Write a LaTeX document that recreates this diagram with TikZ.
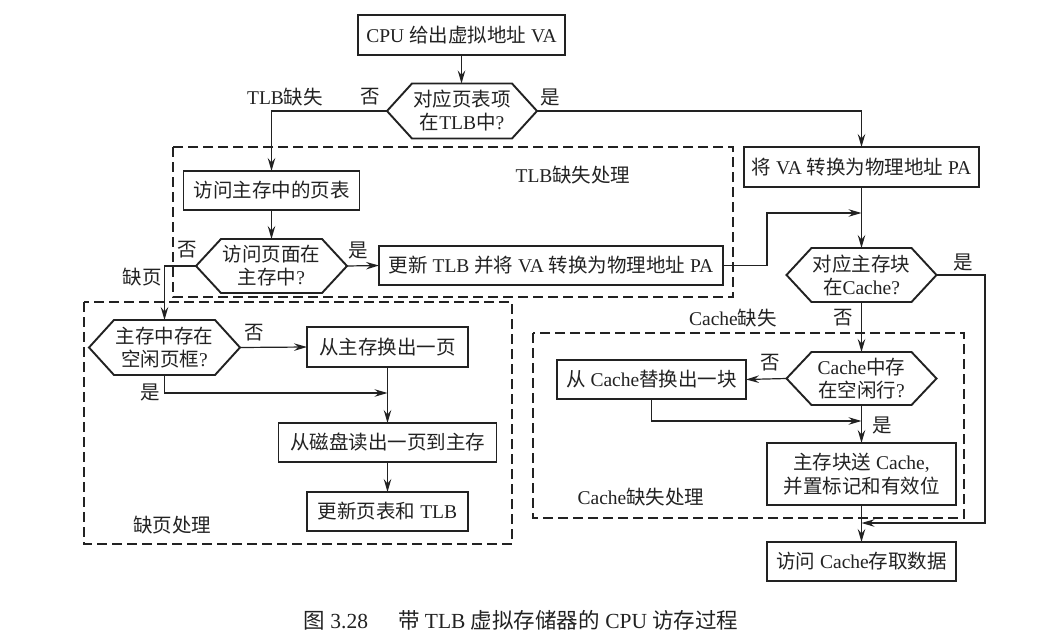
\documentclass[tikz,border=0pt]{standalone}
\usepackage{fontspec}
\setmainfont{Liberation Serif}
\newfontfamily\cjk{Noto Sans CJK SC}
\newcommand\zh[1]{{\cjk #1}}
\usetikzlibrary{arrows.meta}
\definecolor{ink}{HTML}{222222}
\begin{document}
\begin{tikzpicture}[x=1pt,y=-1pt,
  every node/.style={font=\fontsize{19.5}{23}\selectfont, text=ink, inner sep=0pt, outer sep=0pt},
  box/.style={draw=ink, line width=1.9pt, align=center},
  hex/.style={align=center},
  hexline/.style={draw=ink, line width=1.9pt, line join=miter},
  arr/.style={draw=ink, line width=1.2pt, -{Stealth[length=13pt,width=7.5pt,inset=4.5pt]}},
  ln/.style={draw=ink, line width=1.2pt},
  dbox/.style={draw=ink, line width=1.2pt, dash pattern=on 10pt off 5pt},
  lbl/.style={}
]
\useasboundingbox[fill=white] (0,0) rectangle (1047,642);

% dashed groups
\draw[dbox] (173,147) rectangle (733,297);
\draw[dbox] (84,302) rectangle (512,544);
\draw[dbox] (533,333) rectangle (964,518);

% rectangular steps
\node[box, minimum width=207pt, minimum height=40pt] (va) at (461.5,35) {CPU \zh{给出虚拟地址} VA};
\node[box, minimum width=176pt, minimum height=39pt] (pt) at (271.5,190.5) {\zh{访问主存中的页表}};
\node[box, minimum width=344pt, minimum height=39pt] (upd) at (551,265.5) {\zh{更新} TLB \zh{并将} VA \zh{转换为物理地址} PA};
\node[box, minimum width=235pt, minimum height=40pt] (pa) at (861.5,167) {\zh{将} VA \zh{转换为物理地址} PA};
\node[box, minimum width=161pt, minimum height=40pt] (swap) at (387.5,347) {\zh{从主存换出一页}};
\node[box, minimum width=218pt, minimum height=39pt] (disk) at (387.5,442.5) {\zh{从磁盘读出一页到主存}};
\node[box, minimum width=161pt, minimum height=39pt] (uptlb) at (387.5,511.5) {\zh{更新页表和} TLB};
\node[box, minimum width=189pt, minimum height=39pt] (repl) at (651.5,379.5) {\zh{从} Cache\zh{替换出一块}};
\node[box, minimum width=189pt, minimum height=62pt, font=\fontsize{19.5}{24}\selectfont] (load) at (861.5,474) {\zh{主存块送} Cache,\\\zh{并置标记和有效位}};
\node[box, minimum width=189pt, minimum height=39pt] (acc) at (861.5,561.5) {\zh{访问} Cache\zh{存取数据}};

% decisions
\node[hex, minimum width=150pt, minimum height=55pt] (h1) at (462,111) {\zh{对应页表项}\\\zh{在}TLB\zh{中}?};
\node[hex, minimum width=151pt, minimum height=54pt] (h2) at (271.5,266) {\zh{访问页面在}\\\zh{主存中}?};
\node[hex, minimum width=151pt, minimum height=55pt] (h3) at (164.5,347.5) {\zh{主存中存在}\\\zh{空闲页框}?};
\node[hex, minimum width=150pt, minimum height=54pt] (h4) at (861.5,275) {\zh{对应主存块}\\\zh{在}Cache?};
\node[hex, minimum width=150pt, minimum height=53pt] (h5) at (861.5,378.5) {Cache\zh{中存}\\\zh{在空闲行}?};
\foreach \n in {h1,h2,h3,h4,h5}{
  \draw[hexline] (\n.west) -- ([xshift=25pt]\n.north west) -- ([xshift=-25pt]\n.north east)
    -- (\n.east) -- ([xshift=-25pt]\n.south east) -- ([xshift=25pt]\n.south west) -- cycle;
}

% labels
\node[lbl] (lTLBmiss) at (285,97) {TLB\zh{缺失}};
\node[lbl] (l1n) at (370,97) {\zh{否}};
\node[lbl] (l1y) at (550,97) {\zh{是}};
\node[lbl] (lTLBproc) at (573,175) {TLB\zh{缺失处理}};
\node[lbl] (l2n) at (187,250) {\zh{否}};
\node[lbl] (l2y) at (358,250) {\zh{是}};
\node[lbl] (lpf) at (142,277) {\zh{缺页}};
\node[lbl] (l3n) at (254,333) {\zh{否}};
\node[lbl] (l3y) at (150,392) {\zh{是}};
\node[lbl] (lpfproc) at (172,525) {\zh{缺页处理}};
\node[lbl] (l4y) at (963,262) {\zh{是}};
\node[lbl] (l4n) at (843,318) {\zh{否}};
\node[lbl] (lcmiss) at (733,318) {Cache\zh{缺失}};
\node[lbl] (l5n) at (770,363) {\zh{否}};
\node[lbl] (l5y) at (882,425) {\zh{是}};
\node[lbl] (lcproc) at (641,497) {Cache\zh{缺失处理}};
\node[font=\fontsize{21.5}{25}\selectfont] (cap) at (521,620) {\zh{图} 3.28\hspace{30pt}\zh{带} TLB \zh{虚拟存储器的} CPU \zh{访存过程}};

% bend / merge points
\coordinate (b1) at (767,265.5);
\coordinate (m1) at (861.5,213);
\coordinate (m2) at (387.5,393);
\coordinate (c1) at (985,275);
\coordinate (m3) at (861.5,523);
\coordinate (m4) at (861.5,421);

% connectors
\draw[arr] (va.south) -- (va.south |- h1.north);
\draw[arr] (h1.west) -| (pt.north);
\draw[arr] (h1.east) -| (pa.north);
\draw[arr] (pt.south) -- (h2.north);
\draw[arr] (h2.east) -- (upd.west);
\draw[arr] (h2.west) -| (h3.north);
\draw[arr] (pa.south) -- (h4.north);
\draw[arr] (upd.east) -- (b1) |- (m1);
\draw[arr] (h3.east) -- (swap.west);
\draw[arr] (h3.south) |- (m2);
\draw[arr] (swap.south) -- (disk.north);
\draw[arr] (disk.south) -- (uptlb.north);
\draw[arr] (h4.south) -- (h5.north);
\draw[arr] (h4.east) -- (c1) |- (m3);
\draw[arr] (h5.west) -- (repl.east);
\draw[arr] (repl.south) |- (m4);
\draw[arr] (h5.south) -- (load.north);
\draw[arr] (load.south) -- (acc.north);
\end{tikzpicture}
\end{document}
